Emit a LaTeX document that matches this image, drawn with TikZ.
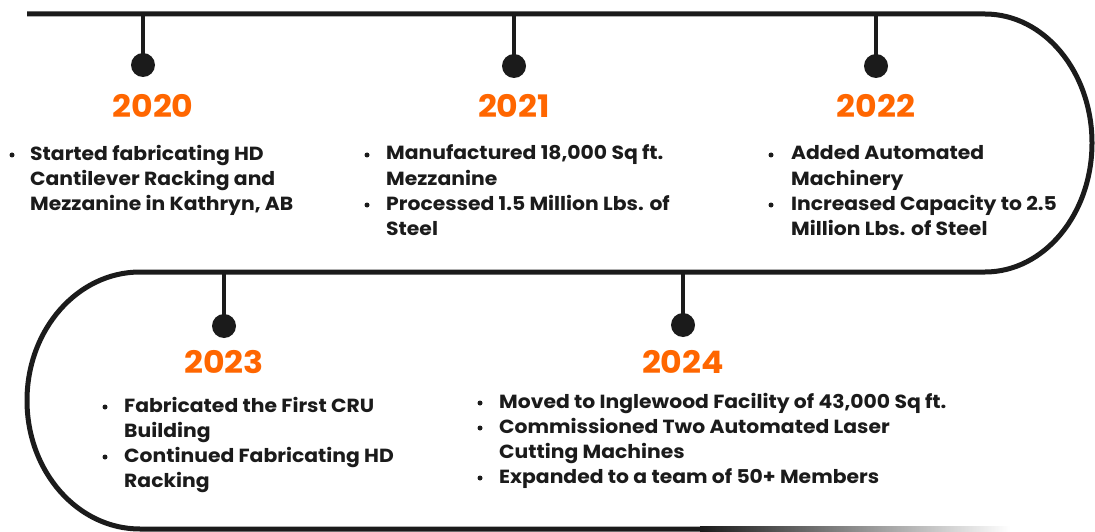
\documentclass[tikz,border=0pt]{standalone}
\usepackage{fontspec}
\setmainfont{Poppins}[FakeStretch=1.07]
\definecolor{ink}{HTML}{1B1B1B}
\definecolor{orng}{HTML}{FF6600}
\begin{document}
\begin{tikzpicture}[x=1pt,y=-1pt,
 track/.style={line width=5pt, draw=ink},
 stem/.style={line width=4.5pt, draw=ink},
 dot/.style={circle, fill=ink, minimum size=24pt, inner sep=0pt},
 year/.style={text=orng, font=\fontsize{31}{31}\selectfont\bfseries, anchor=base, inner sep=0pt},
 item/.style={text=ink, font=\fontsize{19}{25}\selectfont\bfseries, anchor=base west, align=left, inner sep=0pt},
 bul/.style={circle, fill=ink, minimum size=5pt, inner sep=0pt}]
\useasboundingbox (0,0) rectangle (1095,532);
% track
\draw[track] (27,14) -- (985,14)
  arc[start angle=-90, end angle=90, x radius=107, y radius=129]
  -- (140,272)
  arc[start angle=-90, end angle=-270, x radius=113, y radius=128.5]
  -- (702,529);
\fill[left color=ink, right color=white] (700,526.5) rectangle (1010,531.5);
% stems and dots
\foreach \n/\x/\yt/\yd in {s20/143/14/65, s21/514/14/66, s22/876/14/66, s23/224/272/326, s24/683/272/325}{
  \coordinate (t\n) at (\x,\yt);
  \node[dot] (d\n) at (\x,\yd) {};
  \draw[stem] (t\n) -- (d\n.center);
}
% years
\node[year] (y20) at (153,118) {2020};
\node[year] (y21) at (514,118) {2021};
\node[year] (y22) at (876,118) {2022};
\node[year] (y23) at (224,373) {2023};
\node[year] (y24) at (683,373) {2024};
% (multi-line nodes: base anchor = last line baseline)
% 2020
\node[bul] (b20a) at (12,155) {};
\node[item] (i20a) at (30,210) {Started fabricating HD\\Cantilever Racking and\\Mezzanine in Kathryn, AB};
% 2021
\node[bul] (b21a) at (367,155) {};
\node[item] (i21a) at (386,185) {Manufactured 18,000 Sq ft.\\Mezzanine};
\node[bul] (b21b) at (367,205) {};
\node[item] (i21b) at (386,235) {Processed 1.5 Million Lbs. of\\Steel};
% 2022
\node[bul] (b22a) at (771,155) {};
\node[item] (i22a) at (791,185) {Added Automated\\Machinery};
\node[bul] (b22b) at (771,205) {};
\node[item] (i22b) at (791,235) {Increased Capacity to 2.5\\Million Lbs. of Steel};
% 2023
\node[bul] (b23a) at (105,407) {};
\node[item] (i23a) at (124,437) {Fabricated the First CRU\\Building};
\node[bul] (b23b) at (105,457) {};
\node[item] (i23b) at (124,487) {Continued Fabricating HD\\Racking};
% 2024
\node[bul] (b24a) at (480,403) {};
\node[item] (i24a) at (499,408) {Moved to Inglewood Facility of 43,000 Sq ft.};
\node[bul] (b24b) at (480,428) {};
\node[item] (i24b) at (499,458) {Commissioned Two Automated Laser\\Cutting Machines};
\node[bul] (b24c) at (480,478) {};
\node[item] (i24c) at (499,483) {Expanded to a team of 50+ Members};
\end{tikzpicture}
\end{document}
